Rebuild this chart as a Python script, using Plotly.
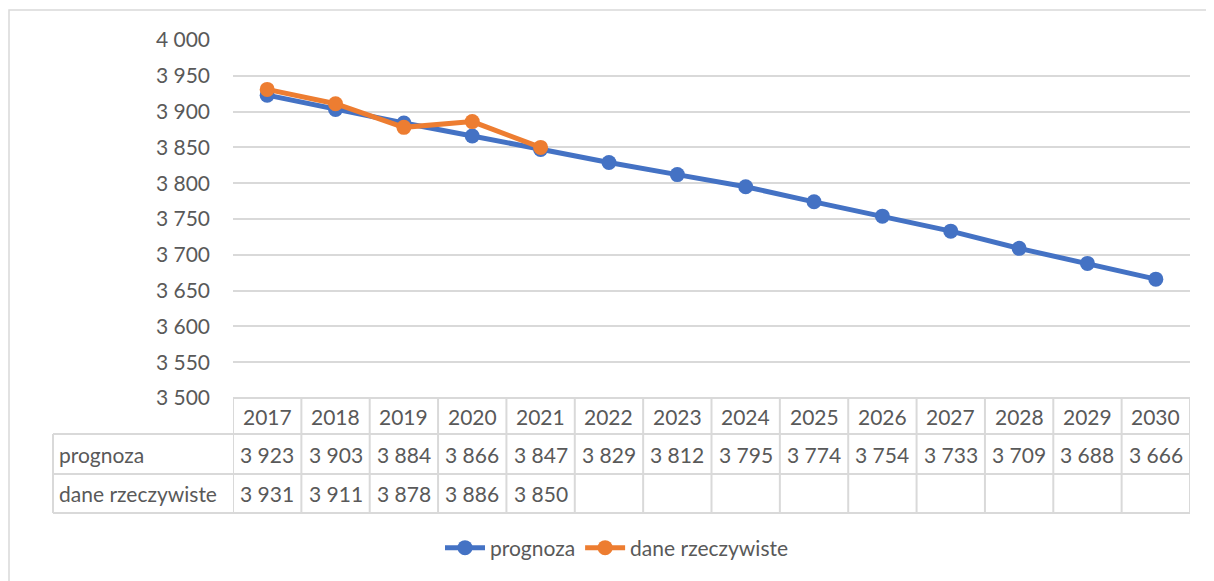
import plotly.graph_objects as go

years = ["2017", "2018", "2019", "2020", "2021", "2022", "2023", "2024",
         "2025", "2026", "2027", "2028", "2029", "2030"]
prognoza = [3923, 3903, 3884, 3866, 3847, 3829, 3812, 3795, 3774, 3754, 3733, 3709, 3688, 3666]
dane_rzeczywiste = [3931, 3911, 3878, 3886, 3850]
series_names = ["prognoza", "dane rzeczywiste"]

OFF = 8                      # page body margin
W, H = 1214 - OFF, 581 - OFF
PL, PR, PT, PB = 233 - OFF, 1190 - OFF, 40 - OFF, 398 - OFF   # plot area in figure pixels
FONT = "Lato"
TXT = "#595959"
GRID = "#d9d9d9"
BLUE = "#4472C4"
ORANGE = "#ED7D31"
FS = 21


def px_x(p):
    return (p - OFF - PL) / (PR - PL)


def px_y(p):
    return (PB - (p - OFF)) / (PB - PT)


def fmt(v):
    return f"{v:,}".replace(",", " ")


xs = list(range(len(years)))
fig = go.Figure()
fig.add_trace(go.Scatter(x=xs, y=prognoza, name=series_names[0], mode="lines+markers",
                         line=dict(color=BLUE, width=5), marker=dict(size=15, color=BLUE)))
fig.add_trace(go.Scatter(x=xs[:len(dane_rzeczywiste)], y=dane_rzeczywiste, name=series_names[1],
                         mode="lines+markers",
                         line=dict(color=ORANGE, width=5), marker=dict(size=15, color=ORANGE)))

shapes = []
annotations = []
ln = dict(color=GRID, width=2)

# chart outer border
shapes.append(dict(type="rect", xref="paper", yref="paper",
                   x0=px_x(9), y0=px_y(600), x1=px_x(1230), y1=px_y(10), line=dict(color=GRID, width=1.5)))

# data table lines
rows_y = [398, 434, 474, 513]
shapes.append(dict(type="line", xref="paper", yref="paper", x0=px_x(233), x1=px_x(1190),
                   y0=px_y(rows_y[0]), y1=px_y(rows_y[0]), line=ln))
for ry in rows_y[1:]:
    shapes.append(dict(type="line", xref="paper", yref="paper", x0=px_x(53), x1=px_x(1190),
                       y0=px_y(ry), y1=px_y(ry), line=ln))
shapes.append(dict(type="line", xref="paper", yref="paper", x0=px_x(53), x1=px_x(53),
                   y0=px_y(rows_y[1]), y1=px_y(rows_y[3]), line=ln))
for k in range(len(years) + 1):
    shapes.append(dict(type="line", xref="x", yref="paper", x0=k - 0.5, x1=k - 0.5,
                       y0=px_y(rows_y[0]), y1=px_y(rows_y[3]), line=ln))

# table text
cy = [(rows_y[i] + rows_y[i + 1]) / 2 for i in range(3)]
tf = dict(family=FONT, size=FS, color=TXT)
for i, yr in enumerate(years):
    annotations.append(dict(x=i, y=px_y(cy[0]), xref="x", yref="paper", text=yr, showarrow=False,
                            xanchor="center", yanchor="middle", font=tf))
for i, v in enumerate(prognoza):
    annotations.append(dict(x=i, y=px_y(cy[1]), xref="x", yref="paper", text=fmt(v), showarrow=False,
                            xanchor="center", yanchor="middle", font=tf))
for i, v in enumerate(dane_rzeczywiste):
    annotations.append(dict(x=i, y=px_y(cy[2]), xref="x", yref="paper", text=fmt(v), showarrow=False,
                            xanchor="center", yanchor="middle", font=tf))
for j, nm in enumerate(series_names):
    annotations.append(dict(x=px_x(57), y=px_y(cy[j + 1]), xref="paper", yref="paper", text=nm,
                            showarrow=False, xanchor="left", yanchor="middle", font=tf))

fig.update_layout(
    width=W, height=H,
    margin=dict(l=PL, r=W - PR, t=PT, b=H - PB, pad=0),
    paper_bgcolor="white", plot_bgcolor="white",
    separators=", ",
    font=dict(family=FONT, size=FS, color=TXT),
    xaxis=dict(range=[-0.5, len(years) - 0.5], showticklabels=False, showgrid=False,
               zeroline=False, showline=False, fixedrange=True),
    yaxis=dict(range=[3500, 4000], dtick=50, tickformat=",d", showgrid=True, gridcolor=GRID,
               gridwidth=1.5, zeroline=False, showline=False, ticks="", ticklabelstandoff=22,
               tickfont=dict(family=FONT, size=FS, color=TXT)),
    showlegend=True,
    legend=dict(orientation="h", x=px_x(617), xanchor="center", y=px_y(548), yanchor="middle",
                font=dict(family=FONT, size=FS, color=TXT), itemwidth=40, tracegroupgap=0),
    shapes=shapes,
    annotations=annotations,
)

fig.write_html("out.html")
